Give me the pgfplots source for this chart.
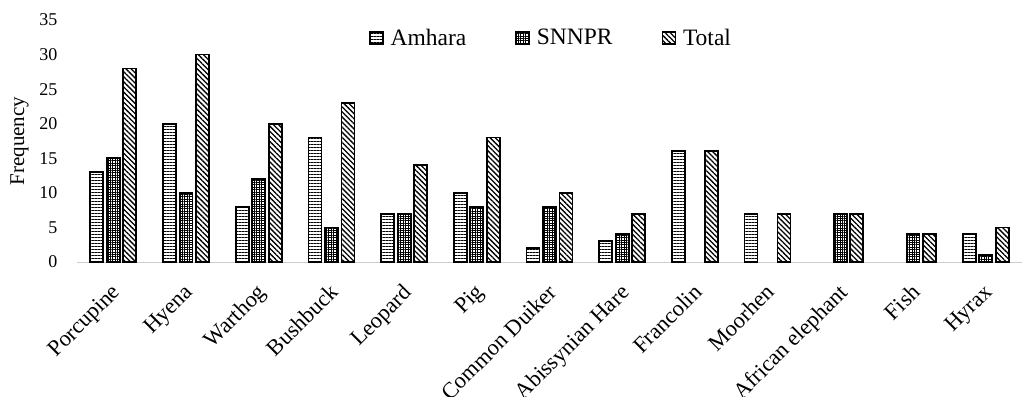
\documentclass[border=0pt]{standalone}
\usepackage{fontspec}
\setmainfont{Liberation Serif}
\usepackage{pgfplots}
\pgfplotsset{compat=1.18}
\usetikzlibrary{patterns.meta}
\begin{document}
\begin{tikzpicture}
\begin{axis}[
  scale only axis,
  width=945pt, height=242pt,
  ybar=3.5pt, bar width=13pt,
  xmin=-0.5, xmax=12.5,
  ymin=0, ymax=35,
  ytick={0,5,...,35},
  xtick={0,...,12},
  xticklabels={Porcupine,Hyena,Warthog,Bushbuck,Leopard,Pig,Common Duiker,Abissynian Hare,Francolin,Moorhen,African elephant,Fish,Hyrax},
  x tick label style={rotate=45, anchor=north east, font=\fontsize{22.5}{24}\selectfont, inner sep=0pt, xshift=-16.5pt, yshift=-12.5pt},
  y tick label style={font=\fontsize{18}{20}\selectfont, xshift=-16pt},
  /pgf/number format/assume math mode=true,
  ylabel={Frequency},
  ylabel style={font=\fontsize{21}{23}\selectfont, yshift=4pt},
  axis x line*=bottom, axis y line*=left,
  y axis line style={draw=none},
  x axis line style={draw=black!20, line width=0.8pt, -},
  major tick length=0pt,
  legend style={draw=none, at={(0.5016,0.926)}, anchor=center, inner sep=0pt, font=\fontsize{23.5}{25}\selectfont,
    /tikz/every odd column/.append style={column sep=5pt},
    /tikz/every even column/.append style={column sep=47pt}},
  legend columns=3,
  legend image code/.code={\draw[#1, line width=1.5pt] (0pt,-6pt) rectangle (13pt,6pt);},
  every axis plot/.append style={draw=black, line width=1.8pt},
]
\addplot[pattern={Lines[angle=0, distance=3pt, line width=0.8pt]}] coordinates {(0,13) (1,20) (2,8) (3,18) (4,7) (5,10) (6,2) (7,3) (8,16) (9,7) (12,4)};
\addplot[pattern={Hatch[angle=0, distance=2.4pt, line width=0.9pt]}] coordinates {(0,15) (1,10) (2,12) (3,5) (4,7) (5,8) (6,8) (7,4) (10,7) (11,4) (12,1)};
\addplot[pattern={Lines[angle=-45, distance=3.6pt, line width=1.3pt]}] coordinates {(0,28) (1,30) (2,20) (3,23) (4,14) (5,18) (6,10) (7,7) (8,16) (9,7) (10,7) (11,4) (12,5)};
\legend{Amhara,SNNPR,Total}
\end{axis}
\pgfresetboundingbox
\path[use as bounding box] (-77pt,-134pt) rectangle (945pt,262pt);
\end{tikzpicture}
\end{document}
